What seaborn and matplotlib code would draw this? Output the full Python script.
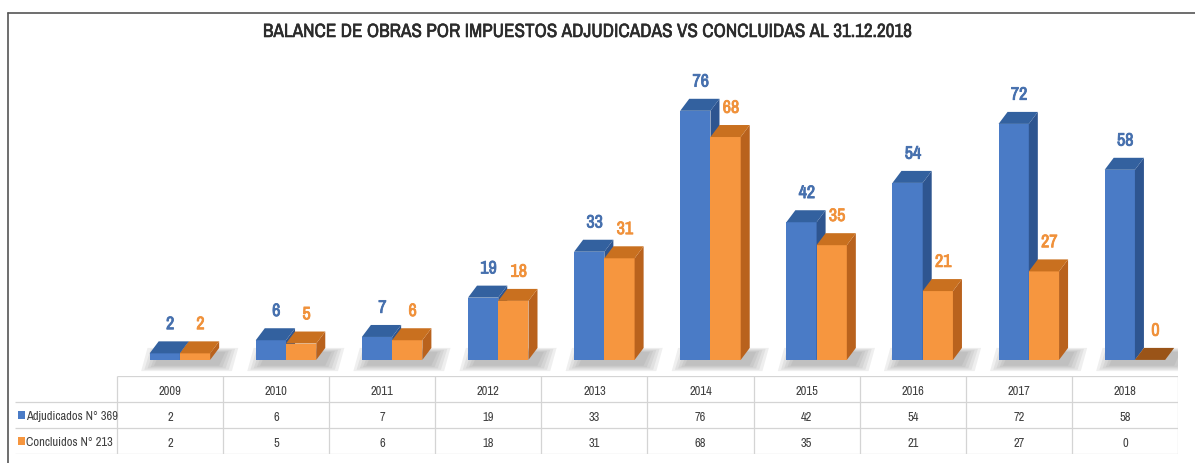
import matplotlib
matplotlib.use("Agg")
import matplotlib.pyplot as plt
import matplotlib.patheffects as pe
import seaborn as sns
import pandas as pd
import numpy as np
from matplotlib.patches import Polygon, Rectangle
from matplotlib.lines import Line2D
from matplotlib import font_manager

# data
years = ['2009', '2010', '2011', '2012', '2013', '2014', '2015', '2016', '2017', '2018']
adjudicados = [2, 6, 7, 19, 33, 76, 42, 54, 72, 58]
concluidas = [2, 5, 6, 18, 31, 68, 35, 21, 27, 0]
series = ['Adjudicados N° 369', 'Concluidos N° 213']
title = 'BALANCE DE OBRAS POR IMPUESTOS ADJUDICADAS VS CONCLUIDAS AL 31.12.2018'

# colours: front, side, top, label
blue = ('#4A7BC6', '#2E5590', '#33619F', '#4670AE')
orange = ('#F6963F', '#B9621D', '#C9701F', '#F0913A')

sns.set_style('white')

# look for a narrow face, the original uses a condensed font
cond = [f for f in font_manager.fontManager.ttflist
        if str(f.stretch) in ('condensed', 'semi-condensed', 'extra-condensed')
        or 'Narrow' in f.name or 'Condensed' in f.name]
cond.sort(key=lambda f: (f.weight != 400 and f.weight != 'normal', f.name))
if cond:
    narrow, stretch = cond[0].name, str(cond[0].stretch)
else:
    narrow, stretch = 'Liberation Sans', 'normal'
plt.rcParams['font.family'] = [narrow, 'DejaVu Sans']
plt.rcParams['font.stretch'] = stretch
found = bool(cond)

W, H = 1195, 464
fig = plt.figure(figsize=(W / 100, H / 100), dpi=100)

# bar axes and table axes share the same column grid
ax = fig.add_axes([15 / W, 1 - 375 / H, 1163 / W, (375 - 60) / H])
tax = fig.add_axes([15 / W, 1 - 455 / H, 1163 / W, (455 - 377) / H])

df = pd.DataFrame({
    'year': years * 2,
    'value': adjudicados + concluidas,
    'serie': [series[0]] * len(years) + [series[1]] * len(years),
})
sns.barplot(data=df, x='year', y='value', hue='serie', palette=[blue[0], orange[0]],
            width=0.57, saturation=1, legend=False, ax=ax, linewidth=0, errorbar=None)

ax.set_xlim(-1.46 - 0.094, 9.5 - 0.094)
ax.set_ylim(-4.3, 91.8)
ax.axis('off')

lab_size = 13 if found else 10.5
dx, dy = 0.085, 3.66
groups = {}
for p in list(ax.patches):
    x0, w, h = p.get_x(), p.get_width(), p.get_height()
    is_blue = np.allclose(p.get_facecolor()[:3], matplotlib.colors.to_rgb(blue[0]))
    col = blue if is_blue else orange
    z = 2 if is_blue else 3
    p.set_zorder(z)
    side = Polygon([(x0 + w, 0), (x0 + w + dx, dy), (x0 + w + dx, h + dy), (x0 + w, h)],
                   closed=True, facecolor=col[1], edgecolor='none', zorder=z)
    top = Polygon([(x0, h), (x0 + dx, h + dy), (x0 + w + dx, h + dy), (x0 + w, h)],
                  closed=True, facecolor=col[2] if h > 0 else '#9A5418', edgecolor='none', zorder=z)
    ax.add_patch(side)
    ax.add_patch(top)
    ax.text(x0 + w / 2 + dx * 0.6, h + dy + 2.8, f'{h:.0f}', ha='center', va='bottom',
            fontsize=lab_size, color=col[3], zorder=5,
            path_effects=[pe.withStroke(linewidth=0.6, foreground=col[3])])
    groups.setdefault(round(x0 + w / 2), []).append((x0, w))

# soft floor shadow under every group
for k, items in groups.items():
    left = min(a for a, _ in items) - 0.08
    right = max(a + b for a, b in items) + dx + 0.18
    for j in range(5):
        shrink = j * 0.03
        ax.add_patch(Polygon([(left + shrink, -3.4 + j * 0.4), (right - shrink - 0.06, -3.4 + j * 0.4),
                              (right - shrink, dy - j * 0.3),
                              (left + shrink + 0.06, dy - j * 0.3)],
                             closed=True, facecolor='#7F7F7F', edgecolor='none',
                             alpha=0.12, zorder=1))

# data table
tax.set_xlim(-1.46, 9.5)
tax.set_ylim(3, 0)
tax.axis('off')
grid = '#D4D4D4'
tab_size = 9 if found else 8
tax.hlines(0, -0.5, 9.5, color=grid, lw=0.9)
tax.hlines([1, 2, 3], -1.46, 9.5, color=grid, lw=0.9)
tax.vlines(np.arange(-0.5, len(years)), 0, 3, color=grid, lw=0.9)
for i, y in enumerate(years):
    tax.text(i, 0.55, y, ha='center', va='center', fontsize=tab_size, color='#404040')
    tax.text(i, 1.55, str(adjudicados[i]), ha='center', va='center', fontsize=tab_size, color='#404040')
    tax.text(i, 2.55, str(concluidas[i]), ha='center', va='center', fontsize=tab_size, color='#404040')
for r, (lab, col) in enumerate(zip(series, [blue, orange])):
    tax.add_patch(Rectangle((-1.43, r + 1.35), 0.062, 0.3, facecolor=col[0], edgecolor='none'))
    tax.text(-1.355, r + 1.52, lab, ha='left', va='center', fontsize=tab_size, color='#404040')

fig.text(588 / W, 1 - 33 / H, title, ha='center', va='center',
         fontsize=13.8 if found else 12.5, color='#2B2B2B',
         path_effects=[pe.withStroke(linewidth=0.4, foreground='#2B2B2B')])

# outer frame (left and top edges)
fig.add_artist(Line2D([8 / W, 8 / W], [0, 1 - 14 / H], transform=fig.transFigure, color='#555555', lw=1.2))
fig.add_artist(Line2D([8 / W, 1], [1 - 14 / H, 1 - 14 / H], transform=fig.transFigure, color='#555555', lw=1.2))

fig.savefig('out.png', dpi=100)
